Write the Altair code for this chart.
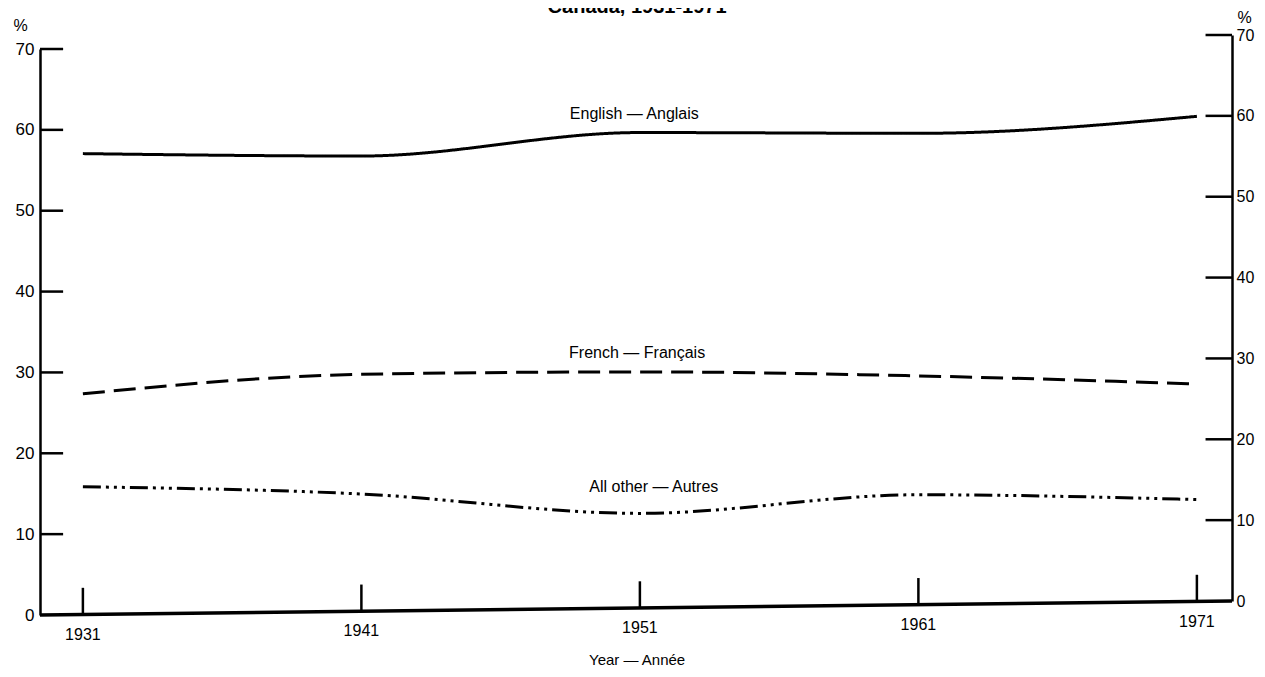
import altair as alt
import pandas as pd

# ---- data ----
years = [1931, 1941, 1951, 1961, 1971]
english = [57.0, 56.3, 58.8, 58.3, 60.0]
french = [27.3, 29.3, 29.2, 28.3, 26.9]
other = [15.8, 14.5, 11.7, 13.6, 12.6]
series_names = ["English — Anglais", "French — Français", "All other — Autres"]
y_ticks = [0, 10, 20, 30, 40, 50, 60, 70]

label_years = [1950.8, 1950.9, 1951.5]
label_values = [61.9, 32.4, 15.8]

title_text = "Canada, 1931-1971"
x_title = "Year — Année"

# ---- layout helpers ----
W, H = 1192, 566
x_min = 1929.46
x_max = x_min + W / 27.85
skew = 0.0403  # tilt of the scanned page, in % units per year
FONT = "Liberation Sans"

rows = []
for name, vals in zip(series_names, [english, french, other]):
    for yr, v in zip(years, vals):
        rows.append({"year": yr, "value": v, "series": name})
df = pd.DataFrame(rows)

xs = alt.Scale(domain=[x_min, x_max], nice=False, zero=False)
ys = alt.Scale(domain=[0, 70], nice=False, zero=True)
yr_scale = alt.Scale(domain=[0, 70], range=[H - 14, -14], nice=False, zero=True)

skew_expr = f"datum.value + (datum.year - {x_min}) * {skew}"

lines = alt.Chart(df).transform_calculate(disp=skew_expr).mark_line(
    interpolate="monotone", strokeWidth=3, color="black", strokeCap="butt"
).encode(
    x=alt.X("year:Q", scale=xs, axis=None),
    y=alt.Y("disp:Q", scale=ys, axis=alt.Axis(
        values=y_ticks, tickSize=0, labelPadding=6, labelFontSize=17,
        labelFont=FONT, labelColor="black", domainColor="black", domainWidth=2.5,
        grid=False, title="%", titleAngle=0, titleX=-20, titleY=-24,
        titleFontSize=16, titleFont=FONT, titleFontWeight="normal",
        titleBaseline="middle", titleAlign="center", titleColor="black")),
    strokeDash=alt.StrokeDash("series:N", scale=alt.Scale(
        domain=series_names,
        range=[[1, 0], [22, 9], [18, 5, 3, 5, 3, 5, 3, 5]]), legend=None),
    detail="series:N",
)

lt_df = pd.DataFrame({"value": y_ticks[1:]})
lt_df["x0"] = x_min
lt_df["x1"] = x_min + 0.83
left_ticks = alt.Chart(lt_df).mark_rule(strokeWidth=2.5, color="black").encode(
    y=alt.Y("value:Q", scale=ys), x=alt.X("x0:Q", scale=xs), x2="x1:Q")

base_df = pd.DataFrame({"year": [x_min, x_max], "value": [0, 0]})
bottom_line = alt.Chart(base_df).transform_calculate(disp=skew_expr).mark_line(
    strokeWidth=3.5, color="black").encode(
    x=alt.X("year:Q", scale=xs), y=alt.Y("disp:Q", scale=ys))

yt_df = pd.DataFrame({"year": years, "value": [0] * 5, "top": [3.3] * 5, "lab": [-2.5] * 5,
                      "txt": [str(y) for y in years]})
year_ticks = alt.Chart(yt_df).transform_calculate(
    y0=skew_expr, y1=f"datum.top + (datum.year - {x_min}) * {skew}"
).mark_rule(strokeWidth=2.5, color="black").encode(
    x=alt.X("year:Q", scale=xs), y=alt.Y("y0:Q", scale=ys), y2="y1:Q")
year_labels = alt.Chart(yt_df).transform_calculate(
    yl=f"datum.lab + (datum.year - {x_min}) * {skew}"
).mark_text(fontSize=16, font=FONT, color="black", baseline="middle").encode(
    x=alt.X("year:Q", scale=xs), y=alt.Y("yl:Q", scale=ys), text="txt:N")

lab_df = pd.DataFrame({"year": label_years, "value": label_values, "txt": series_names})
series_labels = alt.Chart(lab_df).mark_text(
    fontSize=16, font=FONT, color="black", baseline="middle").encode(
    x=alt.X("year:Q", scale=xs), y=alt.Y("value:Q", scale=ys), text="txt:N")

misc_df = pd.DataFrame({"year": [1950.9], "value": [-5.6], "txt": [x_title]})
x_title_mark = alt.Chart(misc_df).mark_text(
    fontSize=15, font=FONT, color="black", baseline="middle").encode(
    x=alt.X("year:Q", scale=xs), y=alt.Y("value:Q", scale=ys), text="txt:N")

t_df = pd.DataFrame({"year": [1950.9], "value": [74.45], "txt": [title_text]})
title_mark = alt.Chart(t_df).mark_text(
    fontSize=20, font=FONT, fontWeight="bold", color="black", baseline="alphabetic").encode(
    x=alt.X("year:Q", scale=xs), y=alt.Y("value:Q", scale=ys), text="txt:N")

left_layer = alt.layer(lines, left_ticks, bottom_line, year_ticks, year_labels,
                       series_labels, x_title_mark, title_mark)

rt_df = pd.DataFrame({"value": y_ticks[1:]})
rt_df["x0"] = x_max - 0.95
rt_df["x1"] = x_max
right_axis = alt.Chart(rt_df).mark_rule(strokeWidth=2.5, color="black").encode(
    y=alt.Y("value:Q", scale=yr_scale, axis=alt.Axis(
        orient="right", values=y_ticks, tickSize=0, labelPadding=4, labelFontSize=16,
        labelFont=FONT, labelColor="black", domainColor="black", domainWidth=2.5,
        grid=False, title="%", titleAngle=0, titleX=12, titleY=-32,
        titleFontSize=16, titleFont=FONT, titleFontWeight="normal",
        titleBaseline="middle", titleAlign="center", titleColor="black")),
    x=alt.X("x0:Q", scale=xs), x2="x1:Q")

chart = alt.layer(left_layer, right_axis).resolve_scale(y="independent").properties(
    width=W, height=H,
    padding={"left": 32, "top": 41, "right": 25, "bottom": 54},
    autosize=alt.AutoSizeParams(type="none"),
    background="white",
).configure_view(stroke=None)

chart.save("out.html", embed_options={"renderer": "svg", "actions": False})
